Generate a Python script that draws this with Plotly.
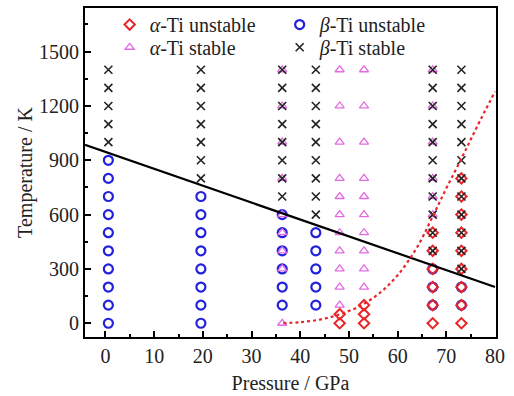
import plotly.graph_objects as go

# ---- data ----
pressures = [0.6, 19.6, 36.3, 43.2, 48.1, 53.1, 67.2, 73.1]

beta_unstable_T = [
    [0, 100, 200, 300, 400, 500, 600, 700, 800, 900],
    [0, 100, 200, 300, 400, 500, 600, 700],
    [100, 200, 300, 400, 500, 600],
    [100, 200, 300, 400, 500],
    [],
    [],
    [100, 200, 300],
    [100, 200],
]
alpha_stable_T = [
    [],
    [],
    [0, 300, 400, 500, 600, 800, 1000, 1200, 1400],
    [],
    [100, 200, 300, 400, 500, 600, 700, 800, 1000, 1200, 1400],
    [200, 300, 400, 500, 600, 700, 800, 1000, 1200, 1400],
    [600, 700, 800, 1000, 1200, 1400],
    [],
]
alpha_unstable_T = [
    [],
    [],
    [],
    [],
    [0, 50],
    [0, 50, 100],
    [0, 100, 200, 300, 400, 500],
    [0, 100, 200, 300, 400, 500, 600, 700, 800],
]
beta_stable_T = [
    [1000, 1100, 1200, 1300, 1400],
    [800, 900, 1000, 1100, 1200, 1300, 1400],
    [700, 800, 900, 1000, 1100, 1200, 1300, 1400],
    [600, 700, 800, 900, 1000, 1100, 1200, 1300, 1400],
    [],
    [],
    [400, 500, 600, 700, 800, 900, 1000, 1100, 1200, 1300, 1400],
    [300, 400, 500, 600, 700, 800, 900, 1000, 1100, 1200, 1300, 1400],
]

boundary_P = [-4.2, 80.0]
boundary_T = [985, 200]

alpha_curve_P = [36.5, 40, 44, 48, 52, 56, 60, 64, 67.2, 70, 73.3, 76.2, 80.0]
alpha_curve_T = [0, 6, 20, 48, 92, 160, 265, 420, 590, 745, 920, 1080, 1280]

x_ticks = [0, 10, 20, 30, 40, 50, 60, 70, 80]
y_ticks = [0, 300, 600, 900, 1200, 1500]


def flatten(temps):
    xs, ys = [], []
    for p, ts in zip(pressures, temps):
        for t in ts:
            xs.append(p)
            ys.append(t)
    return xs, ys


FONT = "Liberation Serif"
BLUE = "#2222dd"
RED = "#e8262a"
MAGENTA = "#e46be4"
DARK = "#222222"

fig = go.Figure()

bx, by = flatten(beta_unstable_T)
circle_line_colors = [DARK if p > 60 else BLUE for p in bx]
fig.add_trace(go.Scatter(
    x=bx, y=by, mode="markers", name="<i>β</i>-Ti unstable", legend="legend", legendrank=2,
    marker=dict(symbol="circle-open", size=9, color=BLUE,
                line=dict(width=2.2, color=circle_line_colors)),
))

ax, ay = flatten(alpha_stable_T)
fig.add_trace(go.Scatter(
    x=ax, y=ay, mode="markers", name="<i>α</i>-Ti stable", legend="legend2", legendrank=1,
    marker=dict(symbol="triangle-up-open", size=8, color=MAGENTA,
                line=dict(width=1.3, color=MAGENTA)),
))

ux, uy = flatten(alpha_unstable_T)
fig.add_trace(go.Scatter(
    x=ux, y=uy, mode="markers", name="<i>α</i>-Ti unstable", legend="legend", legendrank=1,
    marker=dict(symbol="diamond-open", size=8, color=RED,
                line=dict(width=2, color=RED)),
))

sx, sy = flatten(beta_stable_T)
fig.add_trace(go.Scatter(
    x=sx, y=sy, mode="markers", name="<i>β</i>-Ti stable", legend="legend2", legendrank=2,
    marker=dict(symbol="x-thin-open", size=8, color=DARK,
                line=dict(width=1.6, color=DARK)),
))

fig.add_trace(go.Scatter(
    x=boundary_P, y=boundary_T, mode="lines", showlegend=False,
    line=dict(color="black", width=2.2),
))
fig.add_trace(go.Scatter(
    x=alpha_curve_P, y=alpha_curve_T, mode="lines", showlegend=False,
    line=dict(color=RED, width=2.2, dash="dot", shape="spline"),
))

axis_common = dict(
    showline=True, linecolor="black", linewidth=2, mirror=True,
    ticks="inside", ticklen=6, tickwidth=1.5, tickcolor="black",
    showgrid=False, zeroline=False,
    tickfont=dict(family=FONT, size=20, color="#222"),
)

fig.update_xaxes(
    range=[-4.2, 80.2], tickvals=x_ticks,
    minor=dict(ticks="inside", ticklen=3, tickwidth=1.5, dtick=5, tick0=0, tickcolor="black"),
    title=dict(text="Pressure / GPa", font=dict(family=FONT, size=20, color="#222"), standoff=10),
    **axis_common,
)
fig.update_yaxes(
    range=[-76, 1741], tickvals=y_ticks,
    minor=dict(ticks="inside", ticklen=3, tickwidth=1.5, dtick=150, tick0=0, tickcolor="black"),
    title=dict(text="Temperature / K", font=dict(family=FONT, size=20, color="#222"), standoff=1),
    **axis_common,
)

legend_common = dict(
    orientation="h", x=0.06, xanchor="left", yanchor="top",
    entrywidth=125, traceorder="normal",
    bgcolor="rgba(0,0,0,0)", font=dict(family=FONT, size=20, color="#222"),
)

fig.update_layout(
    width=514, height=396,
    margin=dict(l=85, r=18, t=5, b=56),
    plot_bgcolor="white", paper_bgcolor="white",
    font=dict(family=FONT, size=20, color="#222"),
    legend=dict(y=1.009, **legend_common),
    legend2=dict(y=0.940, **legend_common),
)

fig.write_html("out.html")
